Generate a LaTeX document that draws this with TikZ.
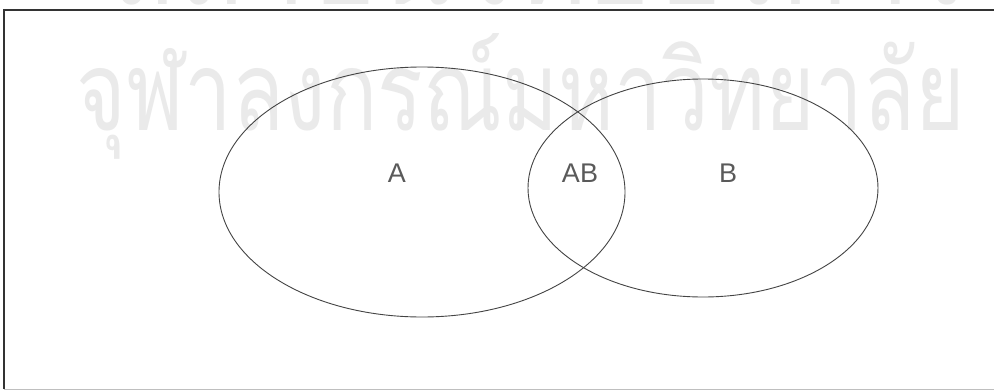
\documentclass[tikz,border=0pt]{standalone}
\usepackage{fontspec}
\setmainfont{Liberation Sans}
\newfontfamily\thaifont[Script=Thai]{Loma}
\usetikzlibrary{shapes.geometric}
\definecolor{linegray}{HTML}{444444}
\definecolor{txtgray}{HTML}{5A5A5A}
\definecolor{wmgray}{HTML}{EAEAEA}
\definecolor{framegray}{HTML}{333333}
\tikzset{
  setshape/.style={ellipse, draw=linegray, line width=0.9pt, inner sep=0pt},
  setlabel/.style={text=txtgray, font=\fontsize{27}{27}\selectfont, inner sep=0pt},
  watermark/.style={text=wmgray, inner sep=0pt, outer sep=0pt, font=\thaifont\fontsize{80}{80}\selectfont},
}
\begin{document}
\begin{tikzpicture}[x=1pt, y=-1pt]
\useasboundingbox (0,0) rectangle (994,391);
\fill[white] (0,0) rectangle (994,391);
\begin{scope}
\clip (0,0) rectangle (994,391);
\node[watermark, anchor=base west] (wm1) at (110,4) {\smash{\resizebox{860pt}{97pt}{สถาบันวิทยบริการ}}};
\node[watermark, anchor=base west] (wm2) at (77,130) {\smash{\resizebox{888pt}{97pt}{จุฬาลงกรณ์มหาวิทยาลัย}}};
\end{scope}
% frame
\coordinate (tl) at (4,10);
\coordinate (tr) at (994,10);
\coordinate (bl) at (4,389);
\coordinate (br) at (994,389);
\draw[framegray, line width=1.8pt] (tr) -- (tl) -- (bl);
\draw[gray!50, line width=1pt] (bl) -- (br);
% sets
\node[setshape, minimum width=406pt, minimum height=250pt] (A) at (422,192) {};
\node[setshape, minimum width=350pt, minimum height=218pt] (B) at (703,188) {};
\node[setlabel] (la) at (397,173) {A};
\node[setlabel] (lab) at (580,173) {AB};
\node[setlabel] (lb) at (728,173) {B};
\end{tikzpicture}
\end{document}
